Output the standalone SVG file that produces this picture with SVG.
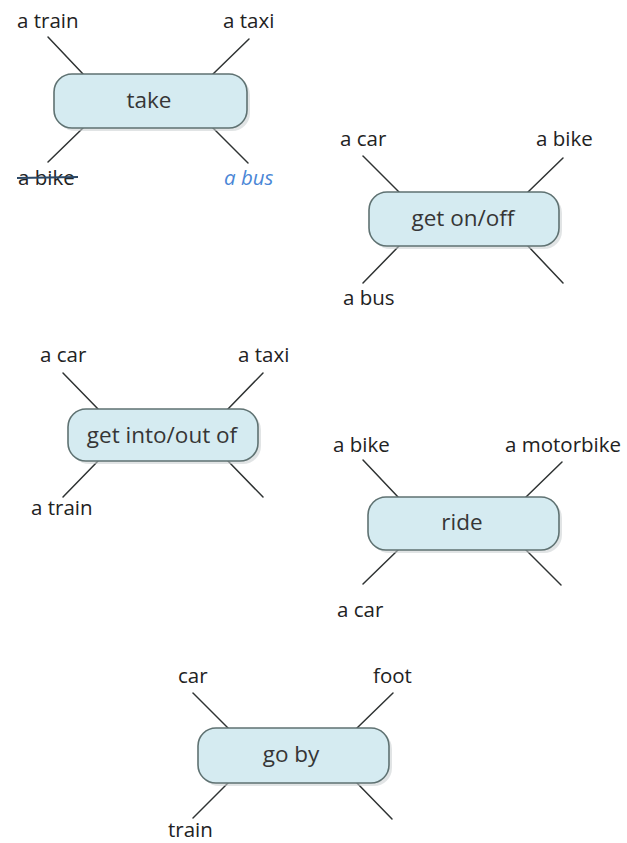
<svg xmlns="http://www.w3.org/2000/svg" width="627" height="843" viewBox="0 0 627 843">
<style>
.lbl{font-family:"Open Sans","Noto Sans","Liberation Sans",sans-serif;font-size:20.5px;fill:#222}
.nt{font-family:"Open Sans","Noto Sans","Liberation Sans",sans-serif;font-size:22.5px;fill:#363636;text-anchor:middle}
.box{fill:#d5ebf1;stroke:#5f7272;stroke-width:1.6}
.sh{fill:#c9cdd0;opacity:0.55}
.con line{stroke:#2f3333;stroke-width:1.5;stroke-linecap:round}
</style>
<rect width="627" height="843" fill="#ffffff"/>
<g id="connectors" class="con">
<line x1="48" y1="37" x2="83" y2="74"/><line x1="249" y1="39" x2="213" y2="74"/>
<line x1="83" y1="128" x2="48" y2="162"/><line x1="213" y1="128" x2="248" y2="163"/>
<line x1="363" y1="156" x2="399" y2="192"/><line x1="563" y1="158" x2="528" y2="192"/>
<line x1="399" y1="246" x2="363" y2="283"/><line x1="528" y1="246" x2="563" y2="283"/>
<line x1="63" y1="373" x2="98" y2="409"/><line x1="263" y1="373" x2="228" y2="409"/>
<line x1="98" y1="461" x2="63" y2="497"/><line x1="228" y1="461" x2="263" y2="497"/>
<line x1="363" y1="460" x2="398" y2="497"/><line x1="562" y1="462" x2="526" y2="497"/>
<line x1="398" y1="550" x2="363" y2="584"/><line x1="526" y1="550" x2="561" y2="585"/>
<line x1="193" y1="693" x2="228" y2="728"/><line x1="393" y1="693" x2="357" y2="728"/>
<line x1="228" y1="783" x2="193" y2="818"/><line x1="357" y1="783" x2="392" y2="819"/>
</g>
<g id="node-take">
<rect class="sh" x="57" y="77" width="193" height="54" rx="18"/>
<rect class="box" x="54" y="74" width="193" height="54" rx="18"/>
<text class="nt" x="149" y="108">take</text>
<text class="lbl" x="17" y="28">a train</text>
<text class="lbl" x="223" y="28">a taxi</text>
<text class="lbl" x="18" y="185">a bike</text>
<line x1="17" y1="178" x2="78" y2="177" stroke="#2c4866" stroke-width="1.8"/>
<text class="lbl" x="224" y="185" style="fill:#4a86d6;font-style:italic">a bus</text>
</g>
<g id="node-get-on-off">
<rect class="sh" x="372" y="195" width="190" height="54" rx="18"/>
<rect class="box" x="369" y="192" width="190" height="54" rx="18"/>
<text class="nt" x="463" y="226">get on/off</text>
<text class="lbl" x="340" y="146">a car</text>
<text class="lbl" x="536" y="146">a bike</text>
<text class="lbl" x="343" y="305">a bus</text>
</g>
<g id="node-get-into-out-of">
<rect class="sh" x="71" y="412" width="190" height="52" rx="18"/>
<rect class="box" x="68" y="409" width="190" height="52" rx="18"/>
<text class="nt" x="162" y="443">get into/out of</text>
<text class="lbl" x="40" y="362">a car</text>
<text class="lbl" x="238" y="362">a taxi</text>
<text class="lbl" x="31" y="515">a train</text>
</g>
<g id="node-ride">
<rect class="sh" x="371" y="500" width="191" height="53" rx="18"/>
<rect class="box" x="368" y="497" width="191" height="53" rx="18"/>
<text class="nt" x="462" y="530">ride</text>
<text class="lbl" x="333" y="452">a bike</text>
<text class="lbl" x="505" y="452">a motorbike</text>
<text class="lbl" x="337" y="617">a car</text>
</g>
<g id="node-go-by">
<rect class="sh" x="201" y="731" width="191" height="55" rx="18"/>
<rect class="box" x="198" y="728" width="191" height="55" rx="18"/>
<text class="nt" x="291" y="762">go by</text>
<text class="lbl" x="178" y="683">car</text>
<text class="lbl" x="373" y="683">foot</text>
<text class="lbl" x="168" y="837">train</text>
</g>
</svg>
